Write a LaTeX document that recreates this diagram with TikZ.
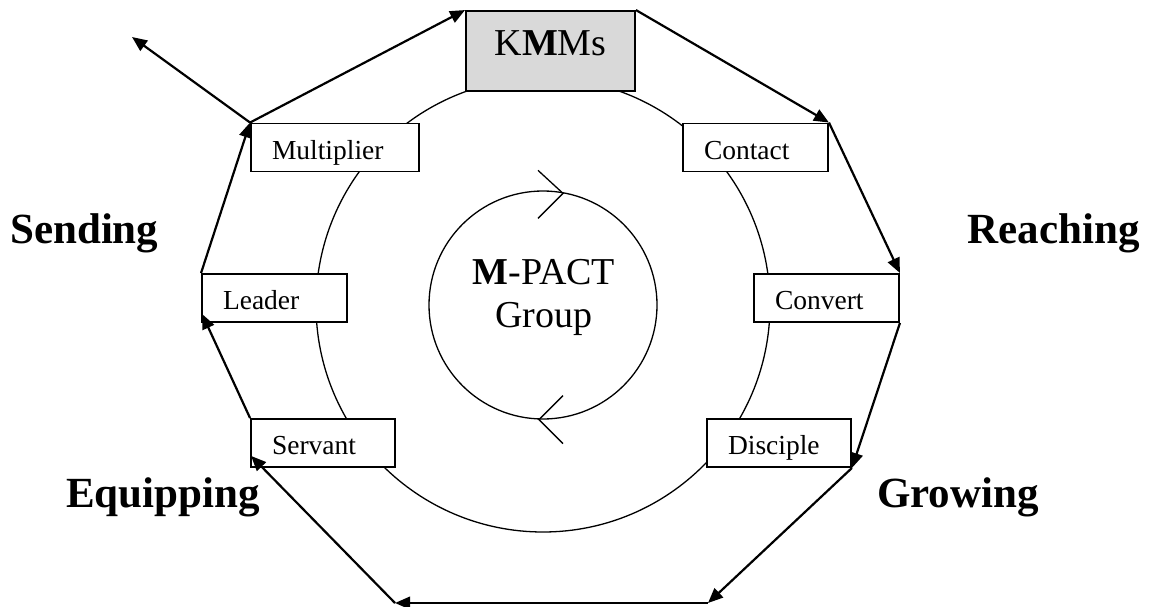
\documentclass[tikz,border=0pt]{standalone}
\usepackage{fontspec}
\setmainfont{Liberation Serif}
\usetikzlibrary{arrows.meta}
\tikzset{
  stage/.style={draw, fill=white, line width=1.9pt, inner xsep=21pt, inner ysep=0pt,
    minimum height=48pt, text width=#1, align=left, text height=23pt, text depth=0pt,
    font=\fontsize{27.5}{30}\selectfont},
  hub/.style={draw, fill=black!15, line width=1.9pt, inner sep=0pt, minimum width=169pt,
    minimum height=80pt, text height=25pt, text depth=16pt, font=\fontsize{38}{42}\selectfont},
  phase/.style={inner sep=0pt, font=\bfseries\fontsize{43}{46}\selectfont},
  loopedge/.style={-{Triangle[length=15pt,width=12.5pt]}, line width=2.2pt},
  ring/.style={circle, draw, line width=1.3pt}
}
\begin{document}
\begin{tikzpicture}[x=1pt,y=-1pt]
  \useasboundingbox (0,0) rectangle (1151,607);
  \node[ring, minimum size=454pt] (ring) at (543,305) {};
  \node[ring, minimum size=228pt] (grp) at (543,305) {};
  \node[align=center, font=\fontsize{38}{43}\selectfont] (grptxt) at (544,297) {\textbf{M}-PACT\\Group};
  \draw[line width=1.3pt] ([shift={(-5,-20)}]grp.north) -- ([shift={(20,3)}]grp.north) -- ([shift={(-5,28)}]grp.north);
  \draw[line width=1.3pt] ([shift={(20,-24)}]grp.south) -- ([shift={(-4,0)}]grp.south) -- ([shift={(20,24)}]grp.south);
  % stages round the ring
  \node[hub] (kmm) at (550.5,51) {K\textbf{M}Ms};
  \node[stage=126pt] (mul) at (335,147.5) {Multiplier};
  \node[stage=103pt] (con) at (755.5,147.5) {Contact};
  \node[stage=103pt] (lea) at (274.5,298) {Leader};
  \node[stage=103pt] (cnv) at (826.5,298) {Convert};
  \node[stage=102pt] (srv) at (323,443) {Servant};
  \node[stage=102pt] (dsc) at (779,443) {Disciple};
  \node[phase, anchor=base west] (snd) at (10,243) {Sending};
  \node[phase, anchor=base east] (rch) at (1140,243) {Reaching};
  \node[phase, anchor=base east] (eqp) at (260,507) {Equipping};
  \node[phase, anchor=base west] (grw) at (877,507) {Growing};
  \coordinate (out) at (132,37);
  \coordinate (br) at (708,603);
  \coordinate (bl) at (395,603);
  \begin{scope}[loopedge]
    \draw (mul.north west) to (kmm.north west);
    \draw (kmm.north east) to (con.north east);
    \draw (con.north east) to (cnv.north east);
    \draw (cnv.south east) to (dsc.south east);
    \draw (dsc.south east) to (br);
    \draw (br) to (bl);
    \draw (bl) to ([shift={(1,-12)}]srv.south west);
    \draw (srv.north west) to ([shift={(1,-9)}]lea.south west);
    \draw (lea.north west) to (mul.north west);
    \draw (mul.north west) to (out);
  \end{scope}
\end{tikzpicture}
\end{document}
